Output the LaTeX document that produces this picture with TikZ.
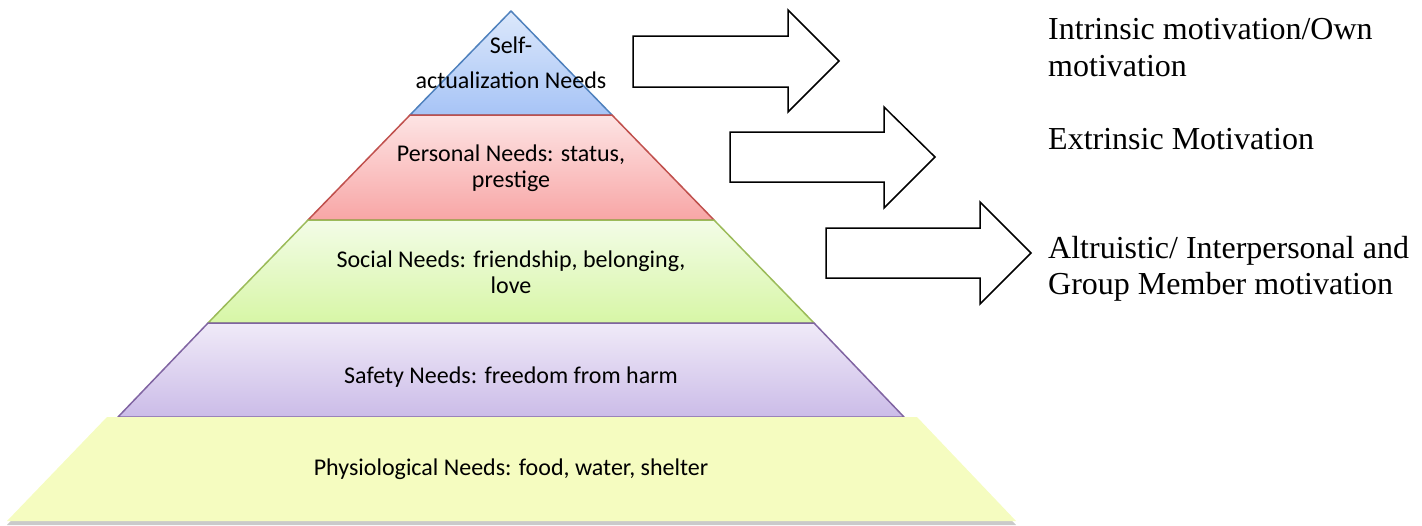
\documentclass[tikz,border=0pt]{standalone}
\usepackage{fontspec}
\setmainfont{Liberation Serif}
\newfontfamily\calib{Carlito}
\usetikzlibrary{shadows}
\definecolor{selfT}{HTML}{DCE8FB}
\definecolor{selfB}{HTML}{A7C4F6}
\definecolor{selfL}{HTML}{4F81BD}
\definecolor{persT}{HTML}{FDE4E4}
\definecolor{persB}{HTML}{F8A6A6}
\definecolor{persL}{HTML}{C0504D}
\definecolor{socT}{HTML}{F3FCE7}
\definecolor{socB}{HTML}{D7F6A6}
\definecolor{socL}{HTML}{9BBB59}
\definecolor{safT}{HTML}{F0EAF8}
\definecolor{safB}{HTML}{CBBCE8}
\definecolor{safL}{HTML}{8064A2}
\definecolor{phyF}{HTML}{F5FCC0}
\tikzset{
  layer/.style={line width=1.5pt, line join=round},
  blockarrow/.style={draw=black, line width=1.5pt, fill=white, line join=miter},
  ptext/.style={font=\calib\fontsize{24}{27}\selectfont, anchor=base, inner sep=0pt, text=black},
  rtext/.style={font=\fontsize{32}{37}\selectfont, anchor=base west, inner sep=0pt, text=black},
}
\begin{document}
\begin{tikzpicture}[x=1pt,y=-1pt]
\useasboundingbox (0,0) rectangle (1422,525);
% layers
\path[layer, draw=selfL, top color=selfT, bottom color=selfB] (511,11) -- (612,115) -- (410,115) -- cycle;
\path[layer, draw=persL, top color=persT, bottom color=persB] (410,115) -- (612,115) -- (714,220) -- (308,220) -- cycle;
\path[layer, draw=socL, top color=socT, bottom color=socB] (308,220) -- (714,220) -- (814,323) -- (208,323) -- cycle;
\path[layer, draw=safL, top color=safT, bottom color=safB] (208,323) -- (814,323) -- (904,417) -- (118,417) -- cycle;
\path[fill=phyF, drop shadow={shadow xshift=0pt, shadow yshift=-4pt, opacity=0.35, fill=black!60}] (107,417) -- (917,417) -- (1016,521) -- (7,521) -- cycle;
% pyramid texts
\node[ptext] (self1) at (511,53) {Self-};
\node[ptext] (self2) at (511,88) {actualization Needs};
\node[ptext] (pers1) at (511,161) {Personal Needs: status,};
\node[ptext] (pers2) at (511,187) {prestige};
\node[ptext] (soc1) at (511,267) {Social Needs: friendship, belonging,};
\node[ptext] (soc2) at (511,293) {love};
\node[ptext] (saf) at (511,383) {Safety Needs: freedom from harm};
\node[ptext] (phy) at (511,475) {Physiological Needs: food, water, shelter};
% block arrows
\path[blockarrow] (633,36) -- (788,36) -- (788,10) -- (839,61) -- (788,112) -- (788,87) -- (633,87) -- cycle;
\path[blockarrow] (730,132) -- (884,132) -- (884,107) -- (935,157) -- (884,208) -- (884,182) -- (730,182) -- cycle;
\path[blockarrow] (826,228) -- (980,228) -- (980,202) -- (1031,253) -- (980,304) -- (980,278) -- (826,278) -- cycle;
% right texts
\node[rtext] (m1a) at (1048,39) {Intrinsic motivation/Own};
\node[rtext] (m1b) at (1048,76) {motivation};
\node[rtext] (m2) at (1048,149) {Extrinsic Motivation};
\node[rtext] (m3a) at (1048,258) {Altruistic/ Interpersonal and};
\node[rtext] (m3b) at (1048,294) {Group Member motivation};
\end{tikzpicture}
\end{document}
